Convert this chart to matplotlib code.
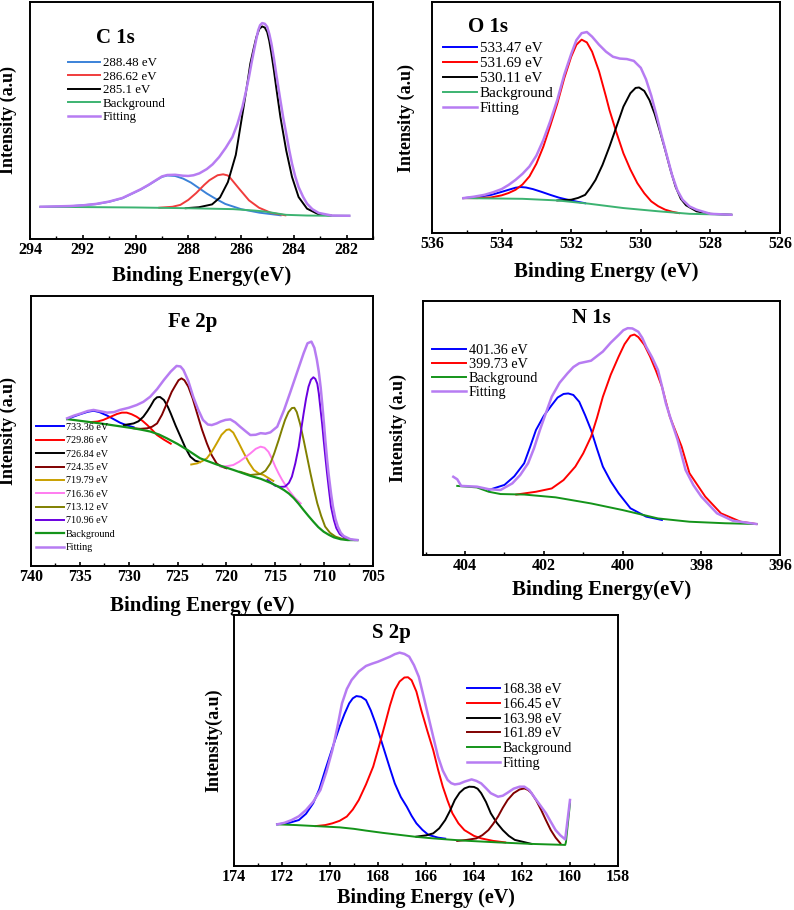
"""
XPS high-resolution spectra: C 1s, O 1s, Fe 2p, N 1s, S 2p
"""
import matplotlib
matplotlib.use('Agg')
import matplotlib.pyplot as plt
from matplotlib.ticker import MultipleLocator

plt.rcParams['font.family'] = ['Liberation Serif', 'DejaVu Serif']

PURPLE = '#b77cf2'

# ---------------- C 1s ----------------
c_bg_x = [293.6, 290.0, 288.1, 286.3, 285.5, 285.1, 284.6, 284.3, 283.5, 282.6, 281.9]
c_bg_y = [13.6, 13.3, 13.0, 12.6, 12.0, 11.6, 10.7, 10.2, 9.9, 9.8, 9.8]
c_fit_x = [293.6, 292.5, 292.0, 291.5, 291.0, 290.5, 290.1, 289.8, 289.5, 289.2, 289.0, 288.8,
           288.5, 288.2, 288.0, 287.8, 287.58, 287.3, 287.08, 286.83, 286.58, 286.33, 286.14,
           285.95, 285.82, 285.7, 285.6, 285.51, 285.42, 285.35, 285.28, 285.2, 285.1, 285.01,
           284.93, 284.85, 284.76, 284.67, 284.51, 284.4, 284.29, 284.18, 284.07, 283.95, 283.82,
           283.65, 283.5, 283.3, 283.06, 282.56, 281.9]
c_fit_y = [13.6, 13.9, 14.2, 14.8, 15.8, 17.3, 19.4, 21.0, 22.9, 25.0, 26.4, 27.0,
           27.1, 26.7, 26.6, 26.9, 27.7, 29.5, 31.5, 34.6, 38.5, 43.0, 48.5,
           55.7, 62.0, 68.4, 74.5, 79.6, 84.5, 88.1, 90.2, 91.1, 90.8, 89.5,
           86.5, 82.4, 76.5, 69.8, 58.5, 51.0, 44.5, 37.8, 31.8, 26.5, 21.9,
           17.8, 14.9, 12.6, 11.0, 9.9, 9.8]
c_p1_x = [293.6, 292.5, 291.5, 291.0, 290.5, 290.1, 289.8, 289.5, 289.2, 289.0, 288.8, 288.5,
          288.2, 287.9, 287.6, 287.3, 287.0, 286.6, 286.0, 285.3, 284.5]
c_p1_y = [13.5, 13.8, 14.7, 15.7, 17.2, 19.3, 20.9, 22.8, 24.9, 26.2, 26.8, 26.6,
          25.5, 23.8, 21.5, 19.2, 17.2, 14.8, 12.6, 11.1, 10.0]
c_p2_x = [289.1, 288.6, 288.3, 288.0, 287.7, 287.4, 287.2, 286.89, 286.68, 286.5, 286.39,
          286.08, 285.7, 285.32, 284.88, 284.32]
c_p2_y = [13.2, 13.6, 14.4, 16.5, 19.4, 22.8, 24.8, 26.9, 27.3, 26.8, 25.5,
          21.3, 16.3, 13.2, 11.1, 10.0]
c_p3_x = [288.1, 287.6, 287.1, 286.8, 286.5, 286.2, 285.9, 285.75, 285.65, 285.52, 285.42,
          285.31, 285.2, 285.1, 285.01, 284.93, 284.85, 284.76, 284.67, 284.51, 284.29, 284.07,
          283.82, 283.5, 283.06, 282.6]
c_p3_y = [13.0, 13.4, 14.6, 17.5, 24.0, 35.5, 56.0, 66.5, 74.0, 80.5, 85.2,
          88.6, 89.7, 89.2, 87.3, 83.5, 78.2, 71.5, 64.1, 51.5, 37.4, 26.2,
          17.7, 12.8, 10.4, 9.9]
c_labels = ['288.48 eV', '286.62 eV', '285.1 eV', 'Background', 'Fitting']

# ---------------- O 1s ----------------
o_bg_x = [535.1, 533.4, 532.4, 531.5, 530.5, 529.5, 528.6, 527.4]
o_bg_y = [15.1, 14.8, 14.1, 12.7, 10.8, 9.4, 8.3, 7.9]
o_fit_x = [535.1, 534.8, 534.5, 534.25, 534.0, 533.8, 533.6, 533.4, 533.2, 533.0, 532.8, 532.6,
           532.4, 532.2, 532.0, 531.85, 531.7, 531.55, 531.4, 531.2, 531.0, 530.8, 530.6, 530.4,
           530.2, 530.0, 529.85, 529.7, 529.55, 529.4, 529.25, 529.1, 528.95, 528.8, 528.6,
           528.4, 528.0, 527.4]
o_fit_y = [15.1, 15.7, 16.5, 17.6, 19.0, 20.8, 23.0, 25.6, 28.8, 33.5, 40.3, 48.5,
           57.6, 68.5, 77.5, 83.5, 86.5, 87.0, 85.0, 81.5, 78.5, 76.3, 75.5, 75.3,
           74.5, 71.5, 66.5, 59.5, 51.0, 42.0, 33.5, 25.0, 18.5, 14.4, 11.5,
           10.1, 8.3, 7.9]
o_p1_x = [535.1, 534.7, 534.3, 534.0, 533.8, 533.6, 533.45, 533.3, 533.1, 532.85, 532.6,
          532.35, 532.1, 531.85, 531.6]
o_p1_y = [15.1, 15.6, 16.5, 17.8, 18.7, 19.6, 19.9, 19.7, 19.0, 17.8, 16.5,
          15.3, 14.4, 13.6, 12.9]
o_p2_x = [535.1, 534.7, 534.3, 534.0, 533.8, 533.6, 533.4, 533.2, 533.0, 532.8, 532.6, 532.4,
          532.2, 532.0, 531.85, 531.7, 531.55, 531.4, 531.2, 531.0, 530.9, 530.7, 530.5, 530.3,
          530.1, 529.9, 529.7, 529.5, 529.3, 529.1, 528.9]
o_p2_y = [15.1, 15.1, 15.4, 16.3, 17.3, 18.7, 21.0, 24.5, 30.0, 37.4, 46.5, 56.0,
          67.0, 76.3, 81.5, 83.7, 82.5, 78.5, 70.0, 59.0, 53.2, 43.5, 34.5, 27.5,
          21.6, 17.2, 13.7, 11.6, 10.1, 9.2, 8.6]
o_p3_x = [532.4, 532.0, 531.8, 531.6, 531.45, 531.3, 531.1, 530.9, 530.7, 530.5, 530.3, 530.15,
          530.05, 529.9, 529.75, 529.6, 529.45, 529.3, 529.15, 529.0, 528.85, 528.7, 528.4,
          528.0, 527.4]
o_p3_y = [14.1, 14.4, 15.2, 16.5, 19.5, 23.0, 29.5, 37.4, 46.0, 54.7, 60.5, 62.8,
          63.0, 61.5, 57.5, 51.5, 44.0, 36.0, 27.5, 20.0, 14.8, 12.0, 9.4,
          8.3, 7.9]
o_labels = ['533.47 eV', '531.69 eV', '530.11 eV', 'Background', 'Fitting']

# ---------------- Fe 2p ----------------
fe_bg_x = [736.3, 734.6, 732.9, 731.2, 729.5, 728.6, 727.8, 726.9, 726.1, 725.0, 724.0, 722.7,
           721.0, 719.3, 717.55, 716.5, 715.5, 714.8, 714.1, 713.6, 713.1, 712.6, 712.1, 711.6,
           711.1, 710.6, 710.05, 709.5, 709.0, 708.3, 707.6, 706.6]
fe_bg_y = [54.4, 53.6, 52.8, 51.9, 51.0, 50.4, 49.8, 48.7, 47.3, 45.2, 43.0, 39.9,
           37.6, 35.6, 33.4, 32.3, 30.8, 29.6, 28.1, 26.8, 25.1, 23.0, 20.7, 18.5,
           16.4, 14.4, 12.7, 11.5, 10.6, 9.9, 9.6, 9.6]
fe_fit_x = [736.3, 735.6, 734.9, 734.2, 733.6, 732.9, 732.2, 731.5, 730.9, 730.0, 729.2, 728.5,
            727.8, 727.1, 726.4, 725.7, 725.1, 724.7, 724.4, 723.9, 723.4, 722.9, 722.4, 721.9,
            721.5, 721.0, 720.6, 720.1, 719.6, 719.1, 718.6, 718.0, 717.55, 717.0, 716.5, 716.0,
            715.5, 714.8, 714.1, 713.5, 712.8, 712.1, 711.7, 711.3, 711.0, 710.75, 710.55,
            710.35, 710.2, 710.0, 709.88, 709.7, 709.55, 709.3, 709.1, 708.85, 708.6, 708.3,
            708.0, 707.3, 706.6]
fe_fit_y = [54.7, 55.7, 56.5, 57.4, 57.8, 57.3, 56.8, 57.0, 57.8, 58.6, 59.6, 60.8,
            62.7, 65.5, 68.9, 72.0, 74.1, 73.9, 72.6, 68.5, 62.7, 58.0, 54.1, 52.4,
            52.2, 52.8, 53.5, 54.1, 54.3, 53.2, 51.6, 49.8, 48.5, 48.6, 49.2, 49.0,
            49.5, 51.6, 57.8, 64.0, 71.4, 78.8, 82.5, 83.1, 80.8, 76.5, 72.0,
            66.0, 60.2, 52.0, 46.7, 39.5, 34.3, 27.0, 22.0, 17.5, 14.6, 12.3,
            11.1, 9.9, 9.6]
fe_p1_x = [736.3, 735.6, 734.9, 734.2, 733.6, 733.0, 732.2, 731.5, 730.9, 730.2, 729.5]
fe_p1_y = [54.4, 55.4, 56.3, 57.1, 57.5, 57.0, 55.7, 54.3, 53.1, 52.1, 51.4]
fe_p2_x = [733.9, 733.2, 732.6, 731.9, 731.2, 730.7, 730.2, 729.7, 729.2, 728.6, 728.1, 727.6,
           727.1, 726.4, 725.7]
fe_p2_y = [53.3, 53.5, 54.1, 55.2, 56.3, 56.8, 56.8, 56.2, 55.3, 53.8, 52.2, 50.4,
           48.5, 46.8, 45.3]
fe_p3_x = [730.5, 729.5, 729.0, 728.5, 728.1, 727.8, 727.4, 727.1, 726.8, 726.4, 726.0, 725.7,
           725.2, 724.7, 724.2, 723.7, 723.2, 722.7]
fe_p3_y = [52.2, 52.8, 53.6, 55.3, 57.3, 59.0, 61.5, 62.5, 62.6, 61.5, 59.0, 56.5,
           52.0, 47.9, 43.8, 40.5, 39.0, 38.5]
fe_p4_x = [729.5, 728.8, 728.1, 727.6, 727.1, 726.6, 726.1, 725.6, 725.2, 724.9, 724.6, 724.3,
           723.9, 723.45, 723.0, 722.5, 722.0, 721.5, 721.0, 720.5, 720.0]
fe_p4_y = [51.0, 50.8, 51.0, 51.6, 52.8, 56.0, 60.2, 64.5, 67.0, 68.8, 69.5, 68.8,
           66.4, 62.0, 56.5, 50.5, 45.4, 41.0, 38.0, 36.8, 36.2]
fe_p5_x = [723.6, 723.0, 722.5, 722.0, 721.5, 721.0, 720.5, 720.0, 719.7, 719.3, 718.8, 718.2,
           717.7, 717.2, 716.7, 716.2, 715.2]
fe_p5_y = [37.6, 38.0, 38.8, 39.9, 42.3, 45.4, 48.6, 50.4, 50.6, 49.4, 46.0, 41.7,
           38.3, 35.6, 34.3, 33.7, 31.5]
fe_p6_x = [720.6, 719.9, 719.3, 718.7, 718.2, 717.55, 717.0, 716.5, 716.1, 715.7, 715.35,
           715.0, 714.65, 714.3, 713.9, 713.5, 713.0, 712.4]
fe_p6_y = [36.8, 37.0, 37.4, 38.6, 39.9, 41.7, 43.4, 44.2, 43.8, 42.3, 39.8,
           36.8, 34.2, 31.9, 29.6, 27.5, 25.2, 23.2]
fe_p7_x = [718.6, 717.55, 716.5, 716.0, 715.5, 715.1, 714.65, 714.3, 714.0, 713.65, 713.3,
           713.05, 712.8, 712.45, 712.1, 711.75, 711.4, 711.05, 710.7, 710.3, 709.9, 709.4,
           708.85, 708.2, 707.6]
fe_p7_y = [34.9, 33.7, 34.1, 35.3, 38.0, 41.8, 46.7, 50.8, 54.1, 57.0, 58.5,
           58.6, 57.0, 52.5, 46.7, 40.5, 34.3, 28.5, 23.2, 18.5, 14.6, 12.3,
           10.9, 10.1, 9.8]
fe_p8_x = [715.8, 715.0, 714.5, 714.0, 713.6, 713.3, 712.95, 712.6, 712.35, 712.1, 711.85,
           711.6, 711.35, 711.1, 710.9, 710.7, 710.55, 710.4, 710.2, 710.05, 709.85, 709.7,
           709.5, 709.3, 709.0, 708.75, 708.4, 708.0, 707.3, 706.9]
fe_p8_y = [31.9, 29.7, 29.3, 29.4, 30.8, 33.1, 38.0, 44.2, 50.5, 56.5, 62.0,
           66.4, 69.0, 69.9, 69.3, 67.5, 64.0, 59.0, 52.5, 46.7, 39.5, 34.3,
           28.0, 22.0, 17.0, 14.0, 11.8, 10.7, 9.8, 9.6]
fe_labels = ['733.36 eV', '729.86 eV', '726.84 eV', '724.35 eV', '719.79 eV',
             '716.36 eV', '713.12 eV', '710.96 eV', 'Background', 'Fitting']

# ---------------- N 1s ----------------
n_bg_x = [404.2, 403.7, 403.4, 403.1, 402.5, 401.7, 400.8, 400.0, 399.1, 398.3, 397.4, 396.6]
n_bg_y = [27.2, 26.6, 24.9, 24.0, 23.8, 22.7, 20.3, 17.7, 14.4, 13.1, 12.5, 12.2]
n_fit_x = [404.3, 404.2, 404.1, 403.7, 403.4, 403.1, 402.8, 402.6, 402.4, 402.25, 402.1, 401.95,
           401.8, 401.6, 401.4, 401.25, 401.1, 400.8, 400.5, 400.3, 400.1, 399.98, 399.87,
           399.75, 399.6, 399.5, 399.4, 399.25, 399.1, 399.0, 398.9, 398.75, 398.6, 398.4, 398.2,
           398.0, 397.6, 397.2, 396.6]
n_fit_y = [30.8, 29.8, 27.2, 26.9, 25.9, 25.6, 28.2, 31.5, 36.1, 42.0, 49.2, 55.8,
           62.3, 67.8, 71.5, 74.0, 75.5, 76.5, 80.1, 83.6, 86.6, 88.5, 89.3,
           89.2, 87.9, 85.5, 82.0, 77.8, 72.8, 66.5, 59.7, 52.3, 45.3, 33.5, 27.5,
           23.0, 16.4, 13.5, 12.2]
n_p1_x = [403.4, 403.0, 402.75, 402.5, 402.35, 402.2, 402.0, 401.8, 401.65, 401.5, 401.38,
          401.25, 401.1, 400.95, 400.8, 400.65, 400.5, 400.3, 400.1, 399.8, 399.4, 399.0]
n_p1_y = [25.6, 27.6, 31.0, 36.1, 42.5, 49.2, 54.8, 59.0, 62.0, 63.4, 63.6,
          63.0, 60.3, 55.0, 49.2, 41.8, 34.8, 29.0, 24.3, 18.4, 15.1, 13.8]
n_p2_x = [402.7, 402.2, 401.8, 401.5, 401.2, 401.0, 400.8, 400.65, 400.5, 400.3, 400.1, 399.95,
          399.8, 399.7, 399.6, 399.45, 399.3, 399.15, 399.0, 398.8, 398.5, 398.3, 397.9, 397.5,
          397.0, 396.6]
n_p2_y = [23.8, 24.9, 26.2, 29.5, 34.8, 40.0, 46.6, 54.0, 62.3, 71.0, 78.1, 83.0,
          86.3, 86.8, 85.8, 82.8, 78.1, 72.5, 66.3, 54.5, 42.7, 32.2, 23.0, 16.4,
          13.1, 12.2]
n_labels = ['401.36 eV', '399.73 eV', 'Background', 'Fitting']

# ---------------- S 2p ----------------
s_bg_x = [172.2, 171.4, 170.6, 169.6, 169.0, 168.5, 167.8, 167.1, 166.4, 165.7, 165.0, 164.4,
          163.0, 161.6, 160.2, 160.17, 160.0]
s_bg_y = [16.6, 16.3, 15.9, 15.4, 14.8, 14.1, 13.2, 12.4, 11.6, 11.0, 10.5, 10.1,
          9.4, 8.8, 8.4, 9.5, 25.0]
s_fit_x = [172.2, 171.9, 171.6, 171.3, 171.0, 170.7, 170.4, 170.15, 169.9, 169.7, 169.5, 169.3,
           169.1, 168.8, 168.5, 168.25, 168.0, 167.75, 167.5, 167.3, 167.1, 166.9, 166.7, 166.5,
           166.3, 166.1, 165.9, 165.7, 165.5, 165.3, 165.1, 164.95, 164.8, 164.6, 164.4, 164.1,
           163.9, 163.7, 163.5, 163.3, 163.0, 162.8, 162.6, 162.35, 162.1, 161.9, 161.7, 161.5,
           161.25, 161.0, 160.8, 160.6, 160.4, 160.2, 160.0]
s_fit_y = [16.6, 17.2, 18.3, 19.8, 22.3, 25.6, 30.3, 37.5, 46.2, 55.0, 64.8, 70.5,
           74.1, 77.5, 79.7, 80.6, 81.4, 82.4, 83.4, 84.4, 85.0, 84.5, 83.4, 80.0,
           75.4, 67.5, 59.5, 51.5, 43.6, 38.0, 34.3, 33.0, 32.5, 32.8, 33.6, 34.5,
           33.9, 32.9, 31.0, 29.0, 27.6, 28.0, 29.2, 30.8, 31.6, 31.6, 30.3, 27.6,
           24.3, 21.0, 17.6, 14.3, 12.2, 10.6, 26.3]
s_p1_x = [172.2, 171.7, 171.3, 171.0, 170.7, 170.45, 170.2, 169.9, 169.6, 169.4, 169.2, 169.05,
          168.9, 168.7, 168.5, 168.3, 168.1, 167.9, 167.7, 167.5, 167.3, 167.05, 166.8, 166.6,
          166.4, 166.15, 165.9, 165.5, 165.2]
s_p1_y = [16.6, 17.2, 18.3, 20.8, 25.0, 30.5, 38.2, 47.0, 55.5, 60.5, 64.8, 66.8,
          67.7, 67.4, 66.1, 62.0, 56.8, 51.0, 44.9, 38.8, 32.9, 27.5, 23.6, 20.0,
          17.0, 14.4, 12.4, 11.3, 10.9]
s_p2_x = [170.6, 170.2, 169.9, 169.6, 169.3, 169.05, 168.8, 168.5, 168.2, 167.95, 167.7, 167.5,
          167.3, 167.1, 166.9, 166.75, 166.6, 166.4, 166.2, 165.95, 165.7, 165.5, 165.3, 165.1,
          164.9, 164.65, 164.4, 164.0, 163.7, 163.2, 162.7]
s_p2_y = [15.9, 16.3, 17.0, 18.0, 19.7, 22.5, 26.3, 32.5, 39.6, 48.0, 56.8, 64.0,
          70.1, 73.5, 75.1, 75.2, 74.0, 69.5, 62.2, 54.0, 46.2, 38.5, 31.6, 26.0,
          21.0, 17.0, 14.3, 12.0, 11.0, 10.0, 9.4]
s_p3_x = [166.4, 166.0, 165.7, 165.45, 165.2, 165.0, 164.8, 164.6, 164.4, 164.2, 164.0, 163.85,
          163.7, 163.5, 163.3, 163.05, 162.8, 162.55, 162.3, 161.6]
s_p3_y = [11.7, 12.2, 13.0, 15.0, 18.3, 22.0, 26.3, 29.2, 30.9, 31.6, 31.5, 30.8,
          29.0, 25.5, 21.0, 17.2, 14.3, 12.0, 10.4, 8.8]
s_p4_x = [164.7, 164.3, 163.9, 163.65, 163.4, 163.2, 163.0, 162.8, 162.6, 162.35, 162.1, 161.9,
          161.75, 161.6, 161.4, 161.2, 161.0, 160.8, 160.6, 160.4]
s_p4_y = [10.0, 10.4, 11.0, 12.3, 14.3, 16.8, 19.7, 23.2, 26.3, 29.0, 30.5, 30.9,
          30.3, 29.0, 26.0, 22.3, 18.2, 14.3, 11.3, 9.0]
s_labels = ['168.38 eV', '166.45 eV', '163.98 eV', '161.89 eV', 'Background', 'Fitting']

W, H = 794, 910


def make_axes(fig, left, top, right, bottom):
    """Axes placed by pixel box (from top-left of figure)"""
    ax = fig.add_axes([left / W, 1 - bottom / H, (right - left) / W, (bottom - top) / H])
    for sp in ax.spines.values():
        sp.set_linewidth(1.4)
    ax.set_yticks([])
    ax.set_ylim(0, 100)
    ax.tick_params(axis='x', which='major', direction='in', length=3, width=1.2,
                   labelsize=11.5, pad=2)
    ax.tick_params(axis='x', which='minor', direction='in', length=2, width=1.0)
    ax.xaxis.set_minor_locator(MultipleLocator(1))
    return ax


def finish(ax, title, tpos, xlabel, xlab_y, ylabel, ylab_x, labels, lpos, lsize, lspace, hlen,
           xlab_size=15):
    ax.text(tpos[0], tpos[1], title, transform=ax.transAxes, ha='center', va='center',
            fontsize=15, fontweight='bold')
    ax.set_xlabel(xlabel, fontsize=xlab_size, fontweight='bold')
    ax.xaxis.set_label_coords(0.5, xlab_y)
    ax.set_ylabel(ylabel, fontsize=13, fontweight='bold')
    ax.yaxis.set_label_coords(ylab_x, 0.5)
    for lbl in ax.get_xticklabels():
        lbl.set_fontweight('bold')
    ax.legend(labels, loc='upper left', bbox_to_anchor=lpos, frameon=False,
              fontsize=lsize, labelspacing=lspace, handlelength=hlen,
              handletextpad=0.2, borderpad=0, borderaxespad=0)


fig = plt.figure(figsize=(W / 100, H / 100), dpi=100)

# C 1s
ax = make_axes(fig, 30, 2, 373, 239)
ax.plot(c_p1_x, c_p1_y, color='#3b82d8', lw=1.4)
ax.plot(c_p2_x, c_p2_y, color='#f03c3c', lw=1.4)
ax.plot(c_p3_x, c_p3_y, color='black', lw=1.4)
ax.plot(c_bg_x, c_bg_y, color='#3cb371', lw=1.4)
ax.plot(c_fit_x, c_fit_y, color=PURPLE, lw=1.8)
ax.set_xlim(294, 281)
ax.xaxis.set_major_locator(MultipleLocator(2))
finish(ax, 'C 1s', (0.25, 0.85), 'Binding Energy(eV)', -0.115, 'Intensity (a.u)', -0.038,
       c_labels, (0.111, 0.768), 9.3, 0.12, 2.5)

# O 1s
ax = make_axes(fig, 432, 2, 780, 233)
ax.plot(o_p1_x, o_p1_y, color='#0000ff', lw=1.4)
ax.plot(o_p2_x, o_p2_y, color='#ff0000', lw=1.4)
ax.plot(o_p3_x, o_p3_y, color='black', lw=1.4)
ax.plot(o_bg_x, o_bg_y, color='#3cb371', lw=1.4)
ax.plot(o_fit_x, o_fit_y, color=PURPLE, lw=1.8)
ax.set_xlim(536, 526)
ax.xaxis.set_major_locator(MultipleLocator(2))
finish(ax, 'O 1s', (0.16, 0.89), 'Binding Energy (eV)', -0.125, 'Intensity (a.u)', -0.049,
       o_labels, (0.032, 0.828), 10.8, 0.1, 2.25)

# Fe 2p
ax = make_axes(fig, 31, 296, 373, 566)
ax.plot(fe_p1_x, fe_p1_y, color='#0000ff', lw=1.4)
ax.plot(fe_p2_x, fe_p2_y, color='#ff0000', lw=1.4)
ax.plot(fe_p3_x, fe_p3_y, color='black', lw=1.4)
ax.plot(fe_p4_x, fe_p4_y, color='#800000', lw=1.4)
ax.plot(fe_p5_x, fe_p5_y, color='#c9a000', lw=1.4)
ax.plot(fe_p6_x, fe_p6_y, color='#ff7cf0', lw=1.4)
ax.plot(fe_p7_x, fe_p7_y, color='#808000', lw=1.4)
ax.plot(fe_p8_x, fe_p8_y, color='#6a00e0', lw=1.4)
ax.plot(fe_bg_x, fe_bg_y, color='#14941a', lw=1.6)
ax.plot(fe_fit_x, fe_fit_y, color=PURPLE, lw=1.8)
ax.set_xlim(740, 705)
ax.xaxis.set_major_locator(MultipleLocator(5))
ax.xaxis.set_minor_locator(MultipleLocator(2.5))
finish(ax, 'Fe 2p', (0.474, 0.905), 'Binding Energy (eV)', -0.11, 'Intensity (a.u)', -0.041,
       fe_labels, (0.015, 0.530), 7.3, 0.42, 2.7)

# N 1s
ax = make_axes(fig, 423, 301, 780, 555)
ax.plot(n_p1_x, n_p1_y, color='#0000ff', lw=1.4)
ax.plot(n_p2_x, n_p2_y, color='#ff0000', lw=1.4)
ax.plot(n_bg_x, n_bg_y, color='#14941a', lw=1.4)
ax.plot(n_fit_x, n_fit_y, color=PURPLE, lw=1.8)
ax.set_xlim(405.07, 396)
ax.xaxis.set_major_locator(MultipleLocator(2))
finish(ax, 'N 1s', (0.473, 0.933), 'Binding Energy(eV)', -0.098, 'Intensity (a.u)', -0.045,
       n_labels, (0.025, 0.832), 10.2, 0.08, 2.4)

# S 2p
ax = make_axes(fig, 234, 615, 618, 866)
ax.plot(s_p1_x, s_p1_y, color='#0000ff', lw=1.4)
ax.plot(s_p2_x, s_p2_y, color='#ff0000', lw=1.4)
ax.plot(s_p3_x, s_p3_y, color='black', lw=1.4)
ax.plot(s_p4_x, s_p4_y, color='#800000', lw=1.4)
ax.plot(s_bg_x, s_bg_y, color='#14941a', lw=1.4)
ax.plot(s_fit_x, s_fit_y, color=PURPLE, lw=1.8)
ax.set_xlim(174, 158)
ax.xaxis.set_major_locator(MultipleLocator(2))
finish(ax, 'S 2p', (0.41, 0.928), 'Binding Energy (eV)', -0.086, 'Intensity(a.u)', -0.031,
       s_labels, (0.607, 0.728), 10.2, 0.12, 2.3, xlab_size=14.5)

fig.savefig('out.png', dpi=100, facecolor='white')
